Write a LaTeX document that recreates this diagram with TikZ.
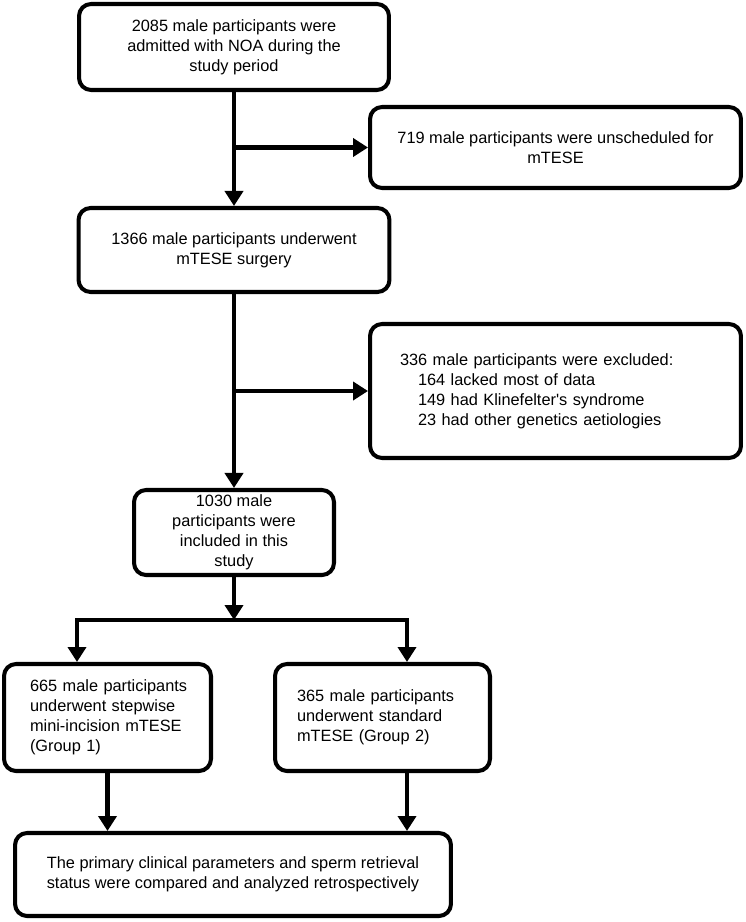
\documentclass[tikz,border=0pt]{standalone}
\usepackage{fontspec}
\setmainfont{Liberation Sans}
\usetikzlibrary{arrows.meta}

\tikzset{
  stage/.style={draw, line width=2.3pt, rounded corners=0.24cm, inner sep=0pt,
    align=center, font=\fontsize{9.3}{11.4}\selectfont},
  flow/.style={line width=2.3pt, -{Triangle[length=0.3cm, width=0.36cm]}},
}

\begin{document}
\begin{tikzpicture}[x=0.02cm, y=-0.02cm]

  \useasboundingbox (0,0) rectangle (746,922);

  % Main stages
  \node[stage, minimum width=6.2cm, minimum height=1.72cm] (admitted) at (234,47)
    {2085 male participants were\\admitted with NOA during the\\study period};
  \node[stage, minimum width=7.42cm, minimum height=1.62cm] (unsched) at (555.5,147.5)
    {719 male participants were unscheduled for\\mTESE};
  \node[stage, minimum width=6.22cm, minimum height=1.68cm] (surgery) at (234,250)
    {1366 male participants underwent\\mTESE surgery};
  \node[stage, minimum width=7.42cm, minimum height=2.68cm, text width=6.22cm,
    inner xsep=0.6cm, align=left] (excluded) at (555.5,391)
    {336 male participants were excluded:\\
     \hspace*{1.1em}164 lacked most of data\\
     \hspace*{1.1em}149 had Klinefelter\textquotesingle s syndrome\\
     \hspace*{1.1em}23 had other genetics aetiologies};
  \node[stage, minimum width=4cm, minimum height=1.7cm] (included) at (234,532.5)
    {1030 male\\participants were\\included in this\\study};

  % Groups
  \node[stage, minimum width=4.14cm, minimum height=2.14cm, text width=3.3cm,
    inner xsep=0.42cm, align=left] (group1) at (107.5,717.5)
    {\hspace*{0.1cm}665 male participants\\\hspace*{0.1cm}underwent stepwise\\
     \hspace*{0.1cm}mini-incision mTESE\\\hspace*{0.1cm}(Group 1)};
  \node[stage, minimum width=4.3cm, minimum height=2.14cm, text width=3.42cm,
    inner xsep=0.44cm, align=left] (group2) at (382.5,717.5)
    {365 male participants\\underwent standard\\mTESE (Group 2)};
  \node[stage, minimum width=8.72cm, minimum height=1.66cm] (compared) at (233,874.5)
    {The primary clinical parameters and sperm retrieval\\status were compared and analyzed retrospectively};

  % Split points
  \coordinate (split) at (234,620);
  \coordinate (splitL) at (77,620);
  \coordinate (splitR) at (407,620);

  % Arrows
  \draw[flow] (admitted.south) -- (surgery.north);
  \draw[flow] (admitted.south |- unsched.west) -- (unsched.west);
  \draw[flow] (surgery.south) -- (included.north);
  \draw[flow] (surgery.south |- excluded.west) -- (excluded.west);
  \draw[flow] (included.south) -- (split);
  \draw[flow] (split) -| (splitL |- group1.north);
  \draw[flow] (split) -| (splitR |- group2.north);
  \draw[flow] (group1.south) -- (group1.south |- compared.north);
  \draw[flow] (group2.south -| splitR) -- (splitR |- compared.north);

\end{tikzpicture}
\end{document}
